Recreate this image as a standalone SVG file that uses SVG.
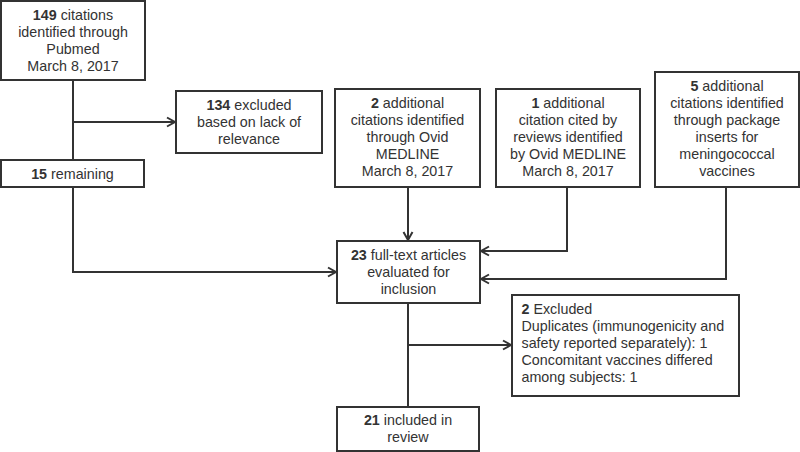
<svg xmlns="http://www.w3.org/2000/svg" width="800" height="452" viewBox="0 0 800 452">
<defs>
<style>
.box{fill:#fff;stroke:#333;stroke-width:2}
.ln{fill:none;stroke:#333;stroke-width:2}
text{font-family:"Liberation Sans",Arial,sans-serif;font-size:14.3px;fill:#333}
.c{text-anchor:middle}
.b{font-weight:bold}
</style>
<marker id="ah" markerUnits="userSpaceOnUse" markerWidth="12" markerHeight="12" viewBox="0 0 12 12" refX="10" refY="6" orient="auto">
<path d="M2,1.5 L10,6 L2,10.5" fill="none" stroke="#333" stroke-width="2"/>
</marker>
</defs>
<rect width="800" height="452" fill="#fff"/>
<g id="connectors">
<path class="ln" d="M73,80 V160"/>
<path class="ln" d="M73,122 H175" marker-end="url(#ah)"/>
<path class="ln" d="M73,187 V272 H336" marker-end="url(#ah)"/>
<path class="ln" d="M408,187 V240" marker-end="url(#ah)"/>
<path class="ln" d="M567,187 V251 H481" marker-end="url(#ah)"/>
<path class="ln" d="M726,187 V279 H481" marker-end="url(#ah)"/>
<path class="ln" d="M408,303 V407"/>
<path class="ln" d="M408,345 H511" marker-end="url(#ah)"/>
</g>
<g id="n149">
<rect class="box" x="1" y="1" width="144" height="79"/>
<text class="c" x="73" y="19.5"><tspan class="b">149</tspan> citations</text>
<text class="c" x="73" y="36.5">identified through</text>
<text class="c" x="73" y="53.5">Pubmed</text>
<text class="c" x="73" y="70.5">March 8, 2017</text>
</g>
<g id="n134">
<rect class="box" x="176" y="91" width="146" height="62"/>
<text class="c" x="249" y="110"><tspan class="b">134</tspan> excluded</text>
<text class="c" x="249" y="127">based on lack of</text>
<text class="c" x="249" y="144">relevance</text>
</g>
<g id="n15">
<rect class="box" x="1" y="160" width="143" height="27"/>
<text class="c" x="72.5" y="178.5"><tspan class="b">15</tspan> remaining</text>
</g>
<g id="n2add">
<rect class="box" x="335" y="89" width="145" height="98"/>
<text class="c" x="407.5" y="108"><tspan class="b">2</tspan> additional</text>
<text class="c" x="407.5" y="125">citations identified</text>
<text class="c" x="407.5" y="142">through Ovid</text>
<text class="c" x="407.5" y="159">MEDLINE</text>
<text class="c" x="407.5" y="176">March 8, 2017</text>
</g>
<g id="n1add">
<rect class="box" x="496" y="89" width="144" height="98"/>
<text class="c" x="568" y="108"><tspan class="b">1</tspan> additional</text>
<text class="c" x="568" y="125">citation cited by</text>
<text class="c" x="568" y="142">reviews identified</text>
<text class="c" x="568" y="159">by Ovid MEDLINE</text>
<text class="c" x="568" y="176">March 8, 2017</text>
</g>
<g id="n5add">
<rect class="box" x="655" y="72" width="144" height="115"/>
<text class="c" x="727" y="91"><tspan class="b">5</tspan> additional</text>
<text class="c" x="727" y="108">citations identified</text>
<text class="c" x="727" y="125">through package</text>
<text class="c" x="727" y="142">inserts for</text>
<text class="c" x="727" y="159">meningococcal</text>
<text class="c" x="727" y="176">vaccines</text>
</g>
<g id="n23">
<rect class="box" x="337" y="241" width="143" height="62"/>
<text class="c" x="408.5" y="259.5"><tspan class="b">23</tspan> full-text articles</text>
<text class="c" x="408.5" y="276.5">evaluated for</text>
<text class="c" x="408.5" y="293.5">inclusion</text>
</g>
<g id="nexcl">
<rect class="box" x="512" y="295" width="227" height="101"/>
<text x="521.5" y="314"><tspan class="b">2</tspan> Excluded</text>
<text x="521.5" y="331">Duplicates (immunogenicity and</text>
<text x="521.5" y="348">safety reported separately): 1</text>
<text x="521.5" y="365">Concomitant vaccines differed</text>
<text x="521.5" y="382">among subjects: 1</text>
</g>
<g id="n21">
<rect class="box" x="337" y="407" width="142" height="44"/>
<text class="c" x="408" y="424.5"><tspan class="b">21</tspan> included in</text>
<text class="c" x="408" y="441.5">review</text>
</g>
</svg>
